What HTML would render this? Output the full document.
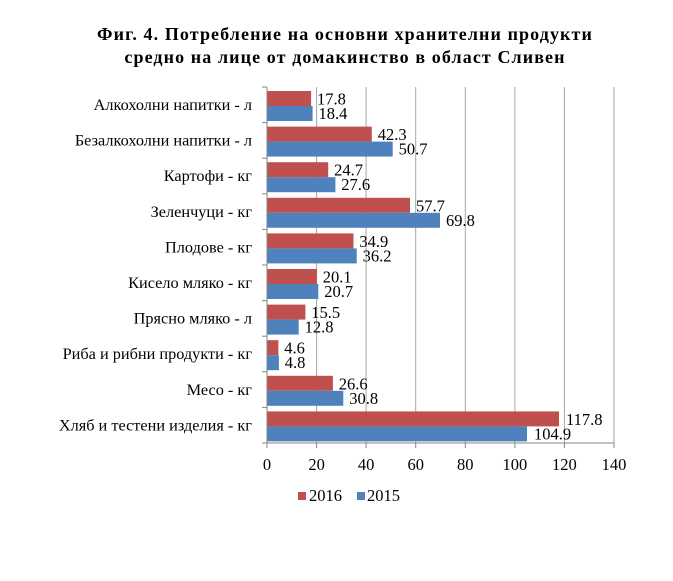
<!DOCTYPE html><html><head><meta charset="utf-8"><style>body{margin:0;background:#fff}</style></head><body>
<svg width="673" height="576" xmlns="http://www.w3.org/2000/svg" font-family="Liberation Serif, serif">
<rect width="673" height="576" fill="#fff"/>
<text x="345" y="40" text-anchor="middle" font-size="18" font-weight="bold" letter-spacing="1.1">Фиг. 4. Потребление на основни хранителни продукти</text>
<text x="345" y="63" text-anchor="middle" font-size="18" font-weight="bold" letter-spacing="1.1">средно на лице от домакинство в област Сливен</text>
<g stroke="#a6a6a6" stroke-width="1">
<line x1="316.6" y1="87" x2="316.6" y2="443"/><line x1="366.1" y1="87" x2="366.1" y2="443"/><line x1="415.7" y1="87" x2="415.7" y2="443"/><line x1="465.3" y1="87" x2="465.3" y2="443"/><line x1="514.9" y1="87" x2="514.9" y2="443"/><line x1="564.4" y1="87" x2="564.4" y2="443"/><line x1="614" y1="87" x2="614" y2="443"/>
</g>
<g font-size="16.5">
<g transform="translate(0,87)"><rect x="267" y="4" width="44.1" height="15" fill="#c0504d"/><rect x="267" y="19" width="45.6" height="15" fill="#4f81bd"/><text x="252" y="23" text-anchor="end" font-size="16.3">Алкохолни напитки - л</text><text x="317" y="17.5">17.8</text><text x="318.5" y="32">18.4</text></g>
<g transform="translate(0,122.6)"><rect x="267" y="4" width="104.8" height="15" fill="#c0504d"/><rect x="267" y="19" width="125.7" height="15" fill="#4f81bd"/><text x="252" y="23" text-anchor="end" font-size="16.3">Безалкохолни напитки - л</text><text x="377.7" y="17.5">42.3</text><text x="398.6" y="32">50.7</text></g>
<g transform="translate(0,158.2)"><rect x="267" y="4" width="61.2" height="15" fill="#c0504d"/><rect x="267" y="19" width="68.4" height="15" fill="#4f81bd"/><text x="252" y="23" text-anchor="end" font-size="16.3">Картофи - кг</text><text x="334.1" y="17.5">24.7</text><text x="341.3" y="32">27.6</text></g>
<g transform="translate(0,193.8)"><rect x="267" y="4" width="143" height="15" fill="#c0504d"/><rect x="267" y="19" width="173" height="15" fill="#4f81bd"/><text x="252" y="23" text-anchor="end" font-size="16.3">Зеленчуци - кг</text><text x="416" y="17.5">57.7</text><text x="446" y="32">69.8</text></g>
<g transform="translate(0,229.4)"><rect x="267" y="4" width="86.5" height="15" fill="#c0504d"/><rect x="267" y="19" width="89.7" height="15" fill="#4f81bd"/><text x="252" y="23" text-anchor="end" font-size="16.3">Плодове - кг</text><text x="359.4" y="17.5">34.9</text><text x="362.6" y="32">36.2</text></g>
<g transform="translate(0,265)"><rect x="267" y="4" width="49.8" height="15" fill="#c0504d"/><rect x="267" y="19" width="51.3" height="15" fill="#4f81bd"/><text x="252" y="23" text-anchor="end" font-size="16.3">Кисело мляко - кг</text><text x="322.7" y="17.5">20.1</text><text x="324.2" y="32">20.7</text></g>
<g transform="translate(0,300.6)"><rect x="267" y="4" width="38.4" height="15" fill="#c0504d"/><rect x="267" y="19" width="31.7" height="15" fill="#4f81bd"/><text x="252" y="23" text-anchor="end" font-size="16.3">Прясно мляко - л</text><text x="311.3" y="17.5">15.5</text><text x="304.6" y="32">12.8</text></g>
<g transform="translate(0,336.2)"><rect x="267" y="4" width="11.4" height="15" fill="#c0504d"/><rect x="267" y="19" width="11.9" height="15" fill="#4f81bd"/><text x="252" y="23" text-anchor="end" font-size="16.3">Риба и рибни продукти - кг</text><text x="284.3" y="17.5">4.6</text><text x="284.8" y="32">4.8</text></g>
<g transform="translate(0,371.8)"><rect x="267" y="4" width="65.9" height="15" fill="#c0504d"/><rect x="267" y="19" width="76.3" height="15" fill="#4f81bd"/><text x="252" y="23" text-anchor="end" font-size="16.3">Месо - кг</text><text x="338.8" y="17.5">26.6</text><text x="349.2" y="32">30.8</text></g>
<g transform="translate(0,407.4)"><rect x="267" y="4" width="292" height="15" fill="#c0504d"/><rect x="267" y="19" width="260" height="15" fill="#4f81bd"/><text x="252" y="23" text-anchor="end" font-size="16.3">Хляб и тестени изделия - кг</text><text x="566" y="17.5">117.8</text><text x="534" y="32">104.9</text></g>
</g>
<g stroke="#868686">
<line x1="267" y1="87" x2="267" y2="443"/><line x1="267" y1="443" x2="614" y2="443"/>
<line x1="262" y1="87" x2="267" y2="87"/><line x1="262" y1="122.6" x2="267" y2="122.6"/><line x1="262" y1="158.2" x2="267" y2="158.2"/><line x1="262" y1="193.8" x2="267" y2="193.8"/><line x1="262" y1="229.4" x2="267" y2="229.4"/><line x1="262" y1="265" x2="267" y2="265"/><line x1="262" y1="300.6" x2="267" y2="300.6"/><line x1="262" y1="336.2" x2="267" y2="336.2"/><line x1="262" y1="371.8" x2="267" y2="371.8"/><line x1="262" y1="407.4" x2="267" y2="407.4"/><line x1="262" y1="443" x2="267" y2="443"/>
<line x1="267" y1="443" x2="267" y2="448"/><line x1="316.6" y1="443" x2="316.6" y2="448"/><line x1="366.1" y1="443" x2="366.1" y2="448"/><line x1="415.7" y1="443" x2="415.7" y2="448"/><line x1="465.3" y1="443" x2="465.3" y2="448"/><line x1="514.9" y1="443" x2="514.9" y2="448"/><line x1="564.4" y1="443" x2="564.4" y2="448"/><line x1="614" y1="443" x2="614" y2="448"/>
</g>
<g font-size="16.5" text-anchor="middle">
<text x="267" y="470">0</text><text x="316.6" y="470">20</text><text x="366.1" y="470">40</text><text x="415.7" y="470">60</text><text x="465.3" y="470">80</text><text x="514.9" y="470">100</text><text x="564.4" y="470">120</text><text x="614" y="470">140</text>
</g>
<rect x="298" y="492" width="8" height="8" fill="#c0504d"/><text x="309" y="501" font-size="16.5">2016</text>
<rect x="357" y="492" width="8" height="8" fill="#4f81bd"/><text x="367" y="501" font-size="16.5">2015</text>
</svg></body></html>
